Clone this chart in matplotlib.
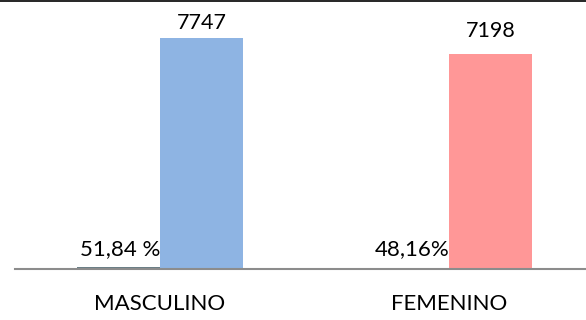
import matplotlib.pyplot as plt

categories = ["MASCULINO", "FEMENINO"]
counts = [7747, 7198]
percents = [51.84, 48.16]
percent_labels = ["51,84 %", "48,16%"]
count_colors = ["#8eb4e3", "#ff9797"]

plt.rcParams["font.family"] = ["Lato", "DejaVu Sans"]

fig = plt.figure(figsize=(5.86, 3.2), dpi=100)
ax = fig.add_axes([15 / 586, 51 / 320, 571 / 586, 269 / 320])

w = 0.287
x = list(range(len(categories)))
ytop = 9020

# tiny percentage bars (same scale as counts) and the count bars
ax.bar([i - w / 2 for i in x], percents, width=w, color="#6b7f86")
ax.bar([i + w / 2 for i in x], counts, width=w, color=count_colors)

for i in x:
    # label sits above the bar, but is kept inside the plot area
    label_y = min(counts[i] + 0.063 * ytop, 0.892 * ytop)
    ax.text(i + w / 2, label_y, str(counts[i]), ha="center", va="baseline",
            fontsize=15.5)
    ax.annotate(percent_labels[i], xy=(i, 0), xytext=(0, 10),
                textcoords="offset points", ha="right", va="baseline",
                fontsize=16)
    ax.annotate(categories[i], xy=(i, 0), xycoords=("data", "axes fraction"),
                xytext=(0, -25.5), textcoords="offset points",
                ha="center", va="center", fontsize=16)

ax.set_xlim(-0.502, 1.474)
ax.set_ylim(0, ytop)
ax.set_xticks([])
ax.set_yticks([])
for s in ["top", "left", "right"]:
    ax.spines[s].set_visible(False)
ax.spines["bottom"].set_color("#8c8c8c")
ax.spines["bottom"].set_linewidth(1.5)

fig.add_artist(plt.Line2D([0, 1], [0.998, 0.998], color="black", linewidth=1.2))

fig.savefig("out.png", dpi=100)
